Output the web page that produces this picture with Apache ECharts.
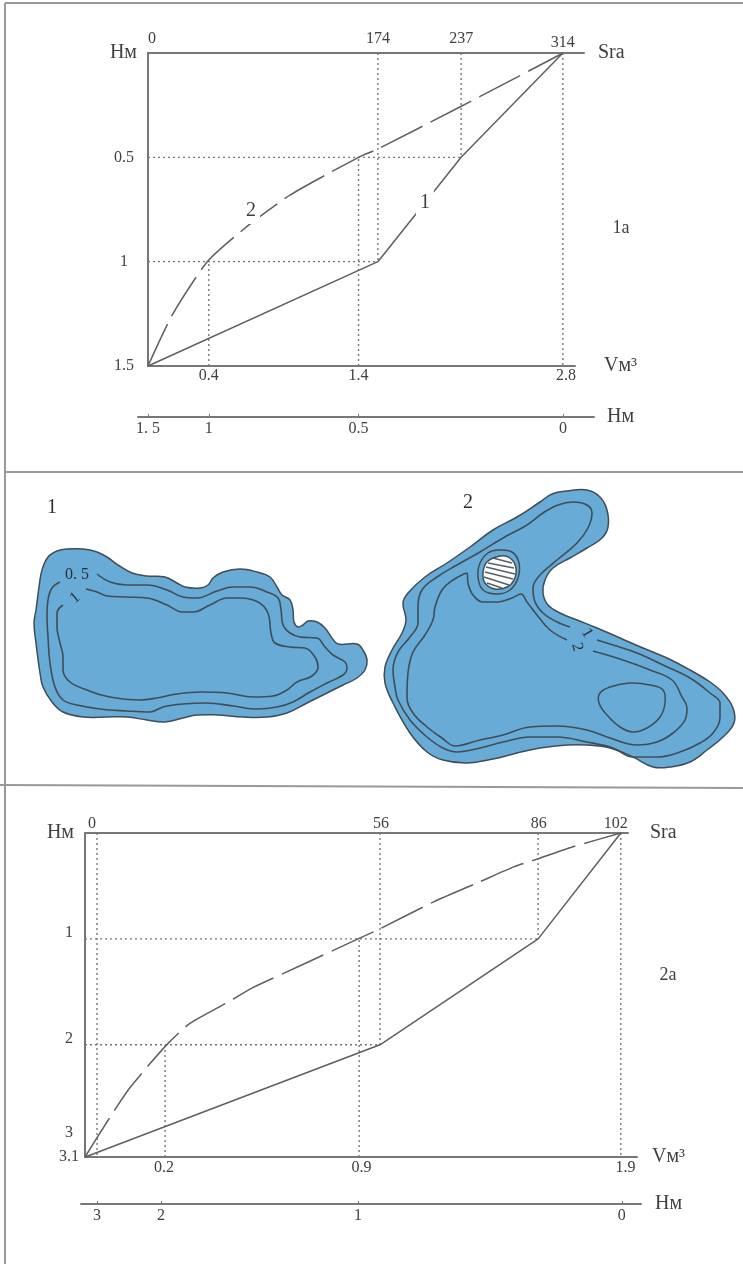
<!DOCTYPE html>
<html>
<head>
<meta charset="utf-8">
<style>
    html, body { margin: 0; padding: 0; background: #fff; }
    #main { width: 743px; height: 1264px; }
</style>
<script src="https://cdn.jsdelivr.net/npm/echarts@6/dist/echarts.min.js"></script>
</head>
<body>
<div id="main"></div>
<script>
// --- chart 1a: [area or volume, depth]
var area1 = [[0, 1.5], [174, 1], [237, 0.5], [314, 0]];
var volume1 = [[0, 1.5], [0.16, 1.26], [0.4, 1], [0.67, 0.83], [0.96, 0.68], [1.42, 0.5], [1.55, 0.46], [2.1, 0.26], [2.8, 0]];
var areaGuides1 = [[174, 1], [237, 0.5], [314, 1.5]];
var areaDepthGuides1 = [[174, 1], [237, 0.5]];
var volumeGuides1 = [[0.41, 1], [1.42, 0.5]];
var areaLabelAt1 = [3, 174, 237];
var areaLabels1 = ['0', '174', '237'];
var volumeLabelAt1 = [0.41, 1.42, 2.82];
var volumeLabels1 = ['0.4', '1.4', '2.8'];
var depthLabelAt1 = [0.5, 1, 1.5];
var depthLabels1 = ['0.5', '1', '1.5'];
var scaleTicks1 = [0, 0.41, 1.42, 2.8];
var scaleLabels1 = ['1. 5', '1', '0.5', '0'];
var curveLabels1 = [[209.6, 0.72, '1'], [0.695, 0.757, '2']];
var lastAreaLabel1 = [314, -0.05, '314'];

// --- chart 2a
var area2 = [[-2.3, 3.06], [55.1, 2], [85.9, 1], [102, 0]];
var volume2 = [[0, 3.06], [0.08, 2.72], [0.155, 2.42], [0.23, 2.18], [0.297, 1.98], [0.371, 1.8], [0.505, 1.6], [0.595, 1.46], [0.774, 1.24], [0.968, 1], [1.042, 0.91], [1.236, 0.65], [1.4, 0.46], [1.52, 0.32], [1.61, 0.24], [1.73, 0.13], [1.9, 0]];
var areaGuides2 = [[0, 3.06], [55.1, 2], [85.9, 1], [102, 3.06]];
var areaDepthGuides2 = [[55.1, 2], [85.9, 1]];
var volumeGuides2 = [[0.284, 2], [0.972, 1]];
var areaLabelAt2 = [-1, 55.3, 86, 101];
var areaLabels2 = ['0', '56', '86', '102'];
var volumeLabelAt2 = [0.28, 0.98, 1.916];
var volumeLabels2 = ['0.2', '0.9', '1.9'];
var depthLabelAt2 = [0.943, 1.943, 2.83, 3.06];
var depthLabels2 = ['1', '2', '3', '3.1'];
var scaleTicks2 = [0.043, 0.27, 0.968, 1.904];
var scaleLabels2 = ['3', '2', '1', '0'];

// --- lake map, in map units of the middle panel
var lake1Shore = [[67,79],[83,79],[97,82],[107,87],[118,95],[132,103],[147,106],[165,107],[177,113],[185,117],[200,118],[208,115],[213,108],[223,102],[240,99],[257,102],[270,107],[277,117],[282,125],[290,130],[293,140],[294,152],[298,157],[303,155],[308,151],[317,152],[325,158],[332,168],[338,174],[357,174],[363,180],[367,190],[365,200],[357,208],[343,215],[327,223],[307,233],[287,243],[267,247],[243,247],[217,245],[197,245],[183,248],[165,252],[147,250],[127,247],[107,247],[83,247],[63,242],[52,232],[43,217],[40,203],[36,173],[34,153],[36,140],[39,117],[42,100],[48,87],[57,81]];
var lake1Contour05 = [[60,112],[52,118],[48,130],[47,147],[48,167],[50,193],[55,217],[63,230],[77,235],[100,239],[127,241],[150,242],[163,237],[183,234],[207,233],[233,236],[257,239],[277,237],[293,232],[310,222],[327,213],[343,205],[347,198],[345,192],[333,185],[325,177],[317,168],[300,167],[290,163],[283,155],[281,140],[278,128],[267,122],[250,117],[233,117],[217,121],[197,128],[183,127],[167,120],[147,115],[127,115],[110,112],[97,104]];
var lake1Contour1 = [[63,135],[57,143],[57,157],[60,173],[63,187],[63,200],[70,212],[87,220],[110,227],[140,230],[157,228],[177,224],[200,222],[227,223],[253,227],[273,226],[287,220],[297,212],[312,206],[318,197],[315,187],[305,178],[290,177],[275,173],[271,163],[268,143],[258,132],[240,128],[227,128],[210,135],[193,142],[182,142],[167,135],[147,128],[127,127],[107,126],[97,122],[86,119]];
var lake2Shore = [[567,21],[587,20],[600,27],[607,40],[608,57],[602,68],[587,78],[570,88],[553,98],[545,110],[543,123],[548,135],[560,143],[577,150],[597,158],[620,168],[643,178],[667,188],[690,200],[710,212],[723,223],[733,238],[734,253],[723,267],[707,280],[690,292],[670,297],[653,297],[633,287],[610,278],[587,275],[567,275],[540,278],[517,283],[493,289],[467,293],[443,290],[427,282],[410,263],[393,233],[385,213],[385,197],[392,180],[402,163],[406,150],[403,133],[408,123],[425,107],[447,93],[470,77],[493,60],[517,47],[540,32],[552,24]];
var lake2Contour1 = [[570,157],[557,152],[543,143],[535,132],[533,118],[540,105],[557,90],[577,73],[588,58],[592,43],[587,35],[573,32],[558,35],[543,43],[527,55],[503,68],[480,82],[457,95],[437,107],[422,120],[418,137],[418,153],[410,167],[398,182],[393,200],[395,217],[398,230],[410,250],[427,267],[443,278],[457,282],[480,278],[503,272],[530,267],[557,267],[587,272],[613,278],[633,287],[657,287],[680,282],[700,273],[713,263],[720,247],[720,233],[710,223],[690,208],[663,195],[637,183],[613,175],[597,170]];
var lake2Contour2 = [[567,170],[550,160],[537,145],[527,132],[521,124],[512,128],[498,132],[483,132],[473,125],[468,113],[467,103],[453,110],[442,120],[435,137],[433,150],[425,165],[413,182],[408,203],[407,227],[413,243],[427,257],[442,268],[455,276],[480,270],[503,265],[530,257],[557,256],[587,260],[610,268],[637,275],[657,272],[673,263],[685,250],[687,238],[682,227],[672,210],[650,200],[623,190],[593,181]];
var lake2Deep = [[610,217],[630,213],[650,215],[663,220],[665,233],[660,247],[647,258],[633,262],[620,257],[607,245],[599,233],[600,223]];
var islandRing = [[498,80],[512,82],[519,93],[518,108],[510,120],[497,124],[483,120],[478,107],[480,93],[488,83]];
var island = [[500,86],[510,88],[516,98],[514,110],[507,117],[495,119],[485,113],[483,103],[487,92]];
var islandHatch = [[[493,88],[512,93]], [[488,93],[514,98]], [[486,97],[515,104]], [[485,102],[513,109]], [[484,107],[509,115]], [[487,113],[502,118]]];
var mapLabels = [[52,38,'1',20,0], [468,33,'2',20,0], [77,105,'0. 5',16,0], [75,128,'1',16,40], [587,163,'1',16,-60], [577,177,'2',16,-75]];

var SERIF = '"Liberation Serif", "Times New Roman", serif';
var INK = '#404040';
var AXIS = '#777';
var LAKE = '#67abd6';
var SHORE = '#3f4d57';

function labelLookup(at, labels) {
    return function (value) {
        for (var i = 0; i < at.length; i++) {
            if (Math.abs(at[i] - value) < 1e-6) {
                return labels[i];
            }
        }
        return '';
    };
}

function hiddenAxis(gridIndex, min, max, inverse) {
    return { type: 'value', gridIndex: gridIndex, min: min, max: max, inverse: !!inverse, show: false };
}

function markAxis(gridIndex, position, min, max, at, labels, margin, name, nameGap) {
    return {
        type: 'value', gridIndex: gridIndex, position: position, min: min, max: max,
        name: name, nameLocation: 'end', nameGap: nameGap,
        nameTextStyle: { fontFamily: SERIF, fontSize: 20, color: INK, verticalAlign: 'middle' },
        splitLine: { show: false },
        axisTick: { show: false },
        axisLine: { onZero: false, lineStyle: { color: AXIS, width: 2 } },
        axisLabel: {
            customValues: at, margin: margin, formatter: labelLookup(at, labels),
            fontFamily: SERIF, fontSize: 16, color: INK
        }
    };
}

function scaleAxis(gridIndex, min, max, ticks, labels, nameGap) {
    var axis = markAxis(gridIndex, 'bottom', min, max, ticks, labels, 4, 'Hм', nameGap);
    axis.axisTick = { show: true, customValues: ticks, inside: true, length: 3, lineStyle: { color: AXIS } };
    return axis;
}

function depthAxis(gridIndex, max, at, labels, margin) {
    return {
        type: 'value', gridIndex: gridIndex, position: 'left', inverse: true, min: 0, max: max,
        name: 'Hм', nameLocation: 'start', nameGap: 0,
        nameTextStyle: { fontFamily: SERIF, fontSize: 20, color: INK, align: 'right', verticalAlign: 'middle', padding: [0, 11, 0, 0] },
        splitLine: { show: false },
        axisTick: { show: false },
        axisLine: { onZero: false, lineStyle: { color: AXIS, width: 2 } },
        axisLabel: {
            customValues: at, margin: margin, align: 'center', formatter: labelLookup(at, labels),
            fontFamily: SERIF, fontSize: 16, color: INK
        }
    };
}

function lineSeries(gridIndex, data, style) {
    return {
        type: 'line', xAxisIndex: gridIndex, yAxisIndex: gridIndex, data: data,
        symbol: 'none', silent: true, animation: false, clip: false,
        smooth: style.smooth || false, z: style.z || 3,
        lineStyle: { color: style.color, width: style.width, type: style.type || 'solid' }
    };
}

// dotted drop lines from the two curves to their axes
function guideSeries(gridIndex, vertical, horizontal, fromDepth, xMin) {
    var list = [];
    var dotted = { color: AXIS, width: 1.4, type: [2, 3] };
    vertical.forEach(function (p) {
        list.push(lineSeries(gridIndex, [[p[0], fromDepth], [p[0], p[1]]], dotted));
    });
    horizontal.forEach(function (p) {
        list.push(lineSeries(gridIndex, [[xMin, p[1]], [p[0], p[1]]], dotted));
    });
    return list;
}

function textSeries(gridIndex, items) {
    return {
        type: 'scatter', xAxisIndex: gridIndex, yAxisIndex: gridIndex, symbolSize: 0, silent: true,
        animation: false, z: 6, clip: false, itemStyle: { opacity: 1 },
        data: items.map(function (t) {
            return {
                value: [t[0], t[1]],
                label: {
                    show: true, position: 'inside', formatter: t[2], fontFamily: SERIF, opacity: 1,
                    fontSize: t[3], rotate: t[4] || 0, color: t[5] || '#2c2f33',
                    backgroundColor: t[6] || 'transparent', padding: t[6] ? [3, 4] : 0
                }
            };
        })
    };
}

var mapShapes = [
    { points: lake1Shore, fill: LAKE },
    { points: lake2Shore, fill: LAKE },
    { points: lake2Deep, fill: 'none' },
    { points: islandRing, fill: 'none' },
    { points: island, fill: '#fff' }
];

var grids = [
    { left: 148, top: 53, width: 436, height: 313 },
    { left: 148, top: 53, width: 427, height: 313 },
    { left: 138, top: 397, width: 456, height: 20 },
    { left: 0, top: 470, width: 743, height: 320 },
    { left: 85, top: 833, width: 543, height: 324 },
    { left: 85, top: 833, width: 552, height: 324 },
    { left: 81, top: 1184, width: 560, height: 20 }
];

var xAxes = [
    markAxis(0, 'top', 0, 330, areaLabelAt1, areaLabels1, 6, 'Sra', 14),
    markAxis(1, 'bottom', 0, 2.88, volumeLabelAt1, volumeLabels1, 2, 'Vм³', 29),
    scaleAxis(2, -0.0675, 3.009, scaleTicks1, scaleLabels1, 13),
    hiddenAxis(3, 0, 743),
    markAxis(4, 'top', -2.34, 103.4, areaLabelAt2, areaLabels2, 1, 'Sra', 22),
    markAxis(5, 'bottom', 0, 1.957, volumeLabelAt2, volumeLabels2, 3, 'Vм³', 15),
    scaleAxis(6, -0.014, 1.972, scaleTicks2, scaleLabels2, 14)
];

var yAxes = [
    depthAxis(0, 1.5, depthLabelAt1, depthLabels1, 24),
    hiddenAxis(1, 0, 1.5, true),
    hiddenAxis(2, 0, 1),
    hiddenAxis(3, 0, 320, true),
    depthAxis(4, 3.06, depthLabelAt2, depthLabels2, 16),
    hiddenAxis(5, 0, 3.06, true),
    hiddenAxis(6, 0, 1)
];

var solidCurve = { color: '#5f5f5f', width: 1.5 };
var dashedCurve = { color: '#5f5f5f', width: 1.5, type: [46, 9], smooth: 0.2 };
var contour = { color: SHORE, width: 1.6, smooth: 0.4, z: 4 };
var hatch = { color: '#5a5f63', width: 1.5, z: 5 };

var series = [].concat(
    guideSeries(0, areaGuides1, areaDepthGuides1, 0, 0),
    guideSeries(1, volumeGuides1, [], 1.5, 0),
    [
        lineSeries(0, area1, solidCurve),
        lineSeries(1, volume1, dashedCurve),
        textSeries(0, [[curveLabels1[0][0], curveLabels1[0][1], curveLabels1[0][2], 20, 0, INK, '#fff'],
            [lastAreaLabel1[0], lastAreaLabel1[1], lastAreaLabel1[2], 16, 0, INK]]),
        textSeries(1, [[curveLabels1[1][0], curveLabels1[1][1], curveLabels1[1][2], 20, 0, INK, '#fff']]),
        {
            type: 'custom', xAxisIndex: 3, yAxisIndex: 3, silent: true, animation: false, z: 2,
            data: mapShapes.map(function (s, i) { return [i]; }),
            renderItem: function (params, api) {
                var shape = mapShapes[params.dataIndex];
                return {
                    type: 'polygon',
                    shape: { points: shape.points.map(function (p) { return api.coord(p); }), smooth: 0.4 },
                    style: { fill: shape.fill, stroke: SHORE, lineWidth: 1.5 }
                };
            }
        },
        lineSeries(3, lake1Contour05, contour),
        lineSeries(3, lake1Contour1, contour),
        lineSeries(3, lake2Contour1, contour),
        lineSeries(3, lake2Contour2, contour),
        textSeries(3, mapLabels)
    ],
    islandHatch.map(function (seg) { return lineSeries(3, seg, hatch); }),
    guideSeries(4, areaGuides2, areaDepthGuides2, 0, -2.34),
    guideSeries(5, volumeGuides2, [], 3.06, 0),
    [
        lineSeries(4, area2, solidCurve),
        lineSeries(5, volume2, dashedCurve)
    ]
);

function frameLine(x1, y1, x2, y2) {
    return {
        type: 'line', silent: true,
        shape: { x1: x1, y1: y1, x2: x2, y2: y2 },
        style: { stroke: '#999', lineWidth: 2 }
    };
}

function sideText(x, y, text) {
    return {
        type: 'text', silent: true, x: x, y: y,
        style: { text: text, fontFamily: SERIF, fontSize: 18, fill: INK, align: 'center', verticalAlign: 'middle' }
    };
}

var chart = echarts.init(document.getElementById('main'), null, { renderer: 'canvas' });
chart.setOption({
    backgroundColor: '#fff',
    animation: false,
    tooltip: { show: false },
    grid: grids,
    xAxis: xAxes,
    yAxis: yAxes,
    series: series,
    graphic: [
        frameLine(5, 3, 743, 3),
        frameLine(5, 3, 5, 1264),
        frameLine(5, 472, 743, 472),
        frameLine(0, 785, 743, 788),
        sideText(621, 228, '1a'),
        sideText(668, 975, '2a')
    ]
});
</script>
</body>
</html>
